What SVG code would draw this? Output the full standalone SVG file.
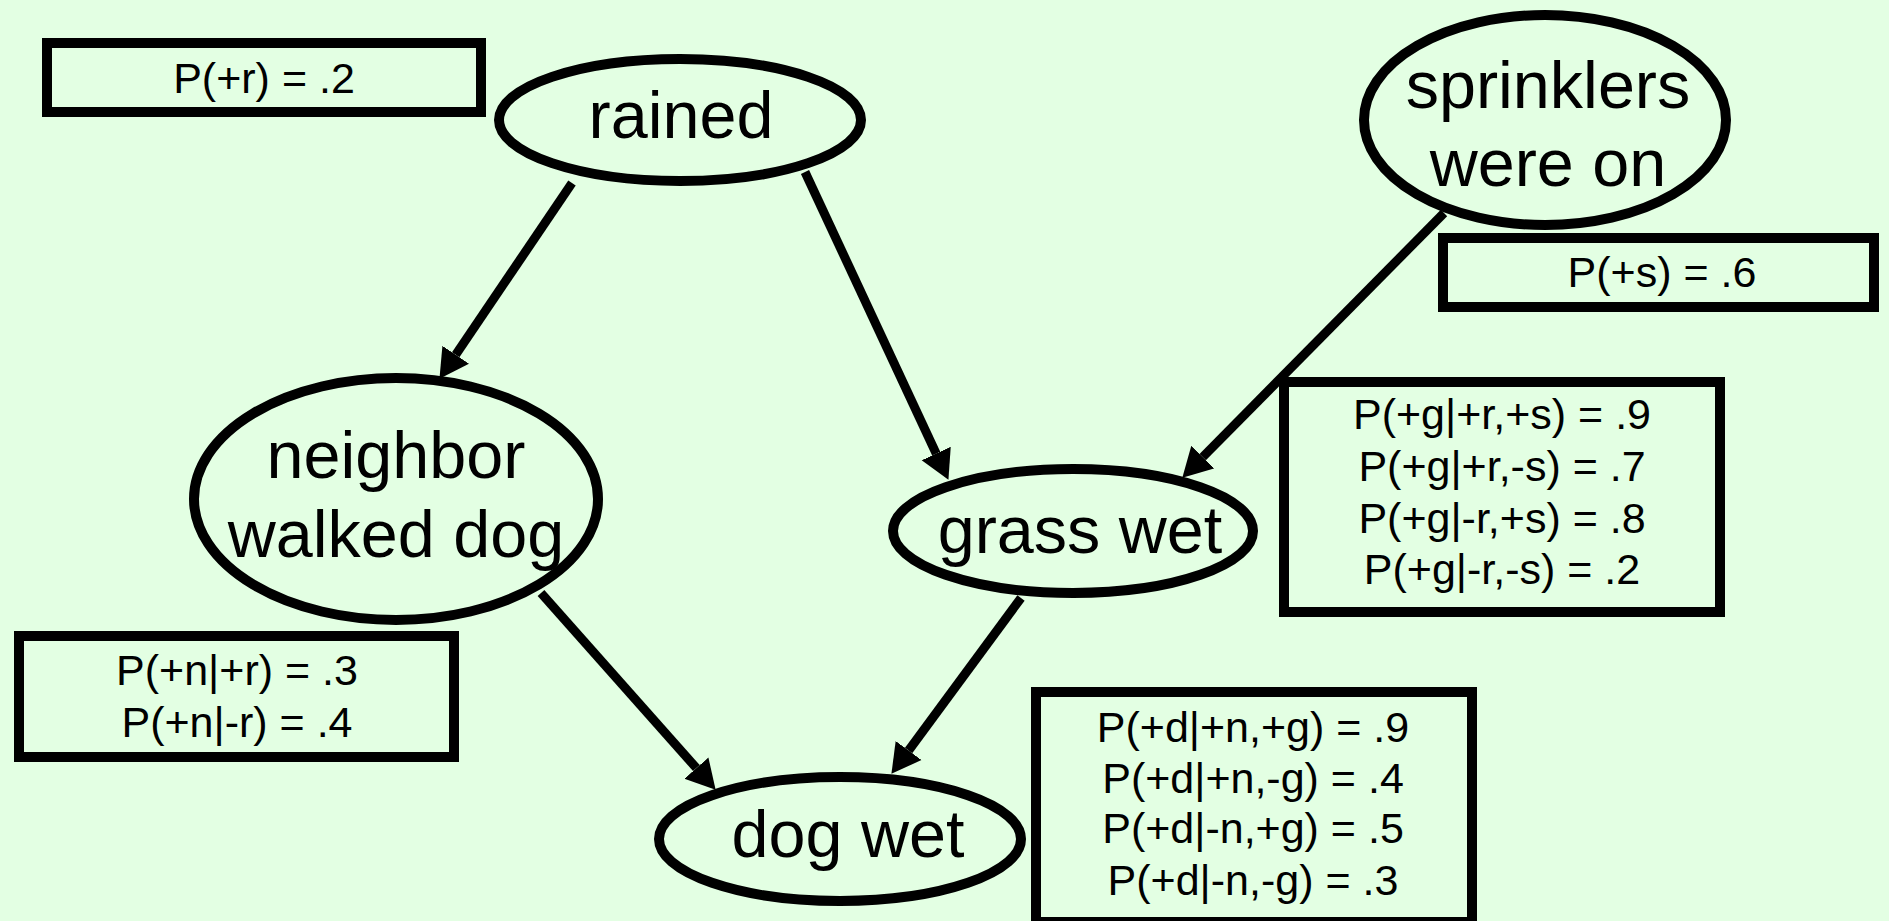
<svg xmlns="http://www.w3.org/2000/svg" width="1889" height="921" viewBox="0 0 1889 921">
  <style>
    .node ellipse { fill: #E3FFE3; stroke: #000; stroke-width: 10; }
    .node text { font-family: "Liberation Sans", Arial, sans-serif; font-size: 66.5px; fill: #000; text-anchor: middle; }
    .cpt rect { fill: #E3FFE3; stroke: #000; stroke-width: 10; }
    .cpt text { font-family: "Liberation Sans", Arial, sans-serif; font-size: 43px; fill: #000; text-anchor: middle; }
    .edge { stroke: #000; stroke-width: 9; fill: none; marker-end: url(#head); }
  </style>
  <defs>
    <marker id="head" markerUnits="userSpaceOnUse" markerWidth="30" markerHeight="34" viewBox="0 -16 29 32" refX="0" refY="0" orient="auto">
      <path d="M0,-15.5 L28,0 L0,15.5 Z" fill="#000"/>
    </marker>
  </defs>

  <rect width="1889" height="921" fill="#E3FFE3"/>

  <!-- probability tables -->
  <g id="cpt-rained" class="cpt">
    <rect x="47" y="43" width="434" height="69"/>
    <text x="264" y="93">P(+r) = .2</text>
  </g>
  <g id="cpt-sprinklers" class="cpt">
    <rect x="1443" y="238" width="431" height="69"/>
    <text x="1662" y="287">P(+s) = .6</text>
  </g>
  <g id="cpt-grass" class="cpt">
    <rect x="1284" y="382" width="436" height="230"/>
    <text x="1502" y="429">P(+g|+r,+s) = .9</text>
    <text x="1502" y="481">P(+g|+r,-s) = .7</text>
    <text x="1502" y="533">P(+g|-r,+s) = .8</text>
    <text x="1502" y="584">P(+g|-r,-s) = .2</text>
  </g>
  <g id="cpt-neighbor" class="cpt">
    <rect x="19" y="636" width="435" height="121"/>
    <text x="237" y="685">P(+n|+r) = .3</text>
    <text x="237" y="737">P(+n|-r) = .4</text>
  </g>
  <g id="cpt-dog" class="cpt">
    <rect x="1036" y="692" width="436" height="230"/>
    <text x="1253" y="742">P(+d|+n,+g) = .9</text>
    <text x="1253" y="793">P(+d|+n,-g) = .4</text>
    <text x="1253" y="843">P(+d|-n,+g) = .5</text>
    <text x="1253" y="895">P(+d|-n,-g) = .3</text>
  </g>

  <!-- nodes -->
  <g id="rained" class="node">
    <ellipse cx="680" cy="120" rx="181" ry="61"/>
    <text x="681" y="138">rained</text>
  </g>
  <g id="sprinklers" class="node">
    <ellipse cx="1545" cy="120" rx="181" ry="105"/>
    <text x="1548" y="108">sprinklers</text>
    <text x="1548" y="186">were on</text>
  </g>
  <g id="neighbor" class="node">
    <ellipse cx="396" cy="499" rx="202" ry="121"/>
    <text x="396" y="478">neighbor</text>
    <text x="396" y="557">walked dog</text>
  </g>
  <g id="grass" class="node">
    <ellipse cx="1073" cy="531" rx="180" ry="62"/>
    <text x="1080" y="553">grass wet</text>
  </g>
  <g id="dog" class="node">
    <ellipse cx="840" cy="839" rx="181" ry="62"/>
    <text x="848" y="857">dog wet</text>
  </g>

  <!-- connectors -->
  <g id="edges">
    <line class="edge" x1="572" y1="183" x2="455.7" y2="354.8"/>
    <line class="edge" x1="805" y1="172" x2="936.2" y2="453.6"/>
    <line class="edge" x1="1444" y1="213" x2="1202.7" y2="457.1"/>
    <line class="edge" x1="541" y1="593" x2="696.4" y2="768.1"/>
    <line class="edge" x1="1021" y1="598" x2="908.6" y2="750.5"/>
  </g>
</svg>
